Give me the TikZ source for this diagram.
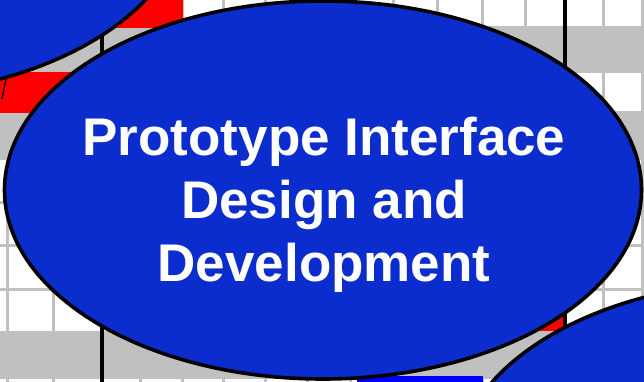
\documentclass[tikz,border=0pt]{standalone}
\usepackage{fontspec}
\setmainfont{Liberation Sans}
\usetikzlibrary{shapes.geometric}
\definecolor{phaseblue}{RGB}{12,45,205}
\definecolor{gridgray}{RGB}{192,192,192}
\definecolor{barblue}{RGB}{0,0,255}

\begin{document}
\begin{tikzpicture}[x=1pt,y=-1pt,
    phase/.style={ellipse,draw=black,line width=3.6pt,fill=phaseblue,minimum width=637pt,minimum height=378pt,inner sep=0pt},
    phasetext/.style={text=white,font=\bfseries\fontsize{53}{63}\selectfont,align=center,inner sep=0pt},
    gridline/.style={draw=gridgray,line width=3pt},
    todayline/.style={draw=black,line width=3.6pt}]
    \useasboundingbox (0,0) rectangle (644,382);
    \clip (0,0) rectangle (644,382);
    \fill[white] (0,0) rectangle (644,382);
    \foreach \x in {7,53,140,182,223,265,307,350,393,437,482,525,603,642}
      \draw[gridline] (\x,0) -- (\x,382);
    \foreach \y in {28,72,113,158,202,245,289,332,377}
      \draw[gridline] (0,\y) -- (644,\y);
    \fill[gridgray] (0,28) rectangle (644,72);
    \fill[gridgray] (0,113) rectangle (644,158);
    \fill[gridgray] (0,331) rectangle (644,376);
    \fill[red] (0,0) rectangle (183,28);
    \fill[red] (0,72) rectangle (260,113);
    \fill[red] (300,289) rectangle (563,331);
    \fill[barblue] (357,376) rectangle (483,382);
    \draw[todayline] (102,0) -- (102,382);
    \draw[todayline] (565,0) -- (565,382);
    \draw[line width=1.2pt] (6,79) -- (2,99);
    \node[phase] (prev) at (-132,-93) {};
    \node[phase] (next) at (774,470) {};
    \node[phase] (proto) at (323,190) {};
    \node[phasetext] (protolabel) at (324,205) {Prototype Interface\\Design and\\Development};
\end{tikzpicture}
\end{document}
